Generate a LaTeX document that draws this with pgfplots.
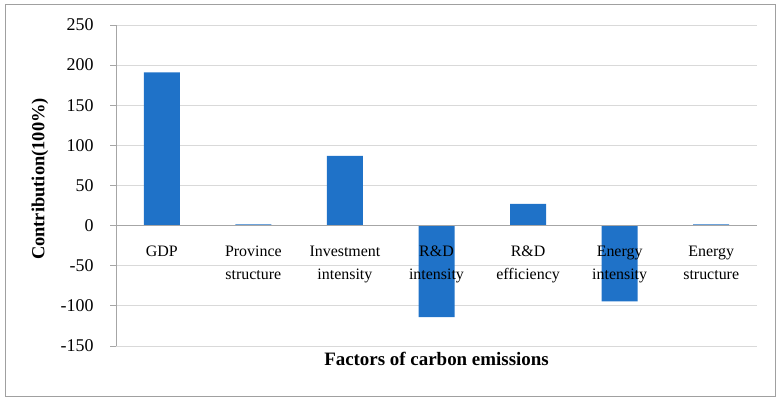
\documentclass[border=0pt]{standalone}
\usepackage{pgfplots}
\pgfplotsset{compat=1.18}
\usepackage{fontspec}
\setmainfont{Liberation Serif}
\definecolor{barblue}{HTML}{1F72C8}
\definecolor{gridgray}{HTML}{D9D9D9}
\definecolor{axgray}{HTML}{A6A6A6}
\definecolor{framegray}{HTML}{A0A0A0}
\pgfplotsset{
  layers/labelsontop/.define layer set={
    axis background,axis grid,main,axis ticks,axis lines,axis tick labels,axis descriptions,axis foreground
  }{/pgfplots/layers/standard},
}
\begin{document}
\begin{tikzpicture}
\begin{axis}[
  set layers=labelsontop,
  scale only axis, width=641bp, height=321bp,
  ymin=-150, ymax=250, ytick={-150,-100,...,250},
  xmin=-0.5, xmax=6.5, xtick=data,
  xticklabels={GDP, Province\\structure, Investment\\intensity, R\&D\\intensity, R\&D\\efficiency, Energy\\intensity, Energy\\structure},
  axis x line=middle, axis y line=left,
  x axis line style={-, draw=axgray, line width=1pt},
  y axis line style={-, draw=axgray, line width=0.8pt},
  xtick style={draw=none},
  ytick style={draw=axgray, line width=0.8pt},
  ytick align=outside, major tick length=6bp,
  ymajorgrids, grid style={draw=gridgray, line width=0.8pt},
  xticklabel style={align=center, font=\fontsize{16}{23}\selectfont, anchor=north, yshift=-11bp},
  yticklabel style={font=\fontsize{18}{20}\selectfont, anchor=east, xshift=-13bp},
  /pgf/number format/assume math mode=true,
  ylabel={Contribution(100\%)},
  xlabel={Factors of carbon emissions},
  ylabel style={at={(axis description cs:-0.1,0.52)}, anchor=south, rotate=0, font=\fontsize{18.5}{20}\selectfont\bfseries},
  xlabel style={at={(axis description cs:0.5,0)}, anchor=north, yshift=-3bp, font=\fontsize{19}{20}\selectfont\bfseries},
  ybar, bar width=36bp,
  clip=false,
]
\addplot[fill=barblue, draw=none] coordinates {(0,191) (1,1.5) (2,87) (3,-114) (4,27) (5,-94.5) (6,1.5)};
\coordinate (SW) at (rel axis cs:0,0);
\coordinate (NE) at (rel axis cs:1,1);
\end{axis}
\draw[framegray, line width=0.8pt] ([xshift=-111bp,yshift=-50bp]SW) rectangle ([xshift=18bp,yshift=21bp]NE);
\useasboundingbox ([xshift=-116bp,yshift=-56bp]SW) rectangle ([xshift=22bp,yshift=25bp]NE);
\end{tikzpicture}
\end{document}
